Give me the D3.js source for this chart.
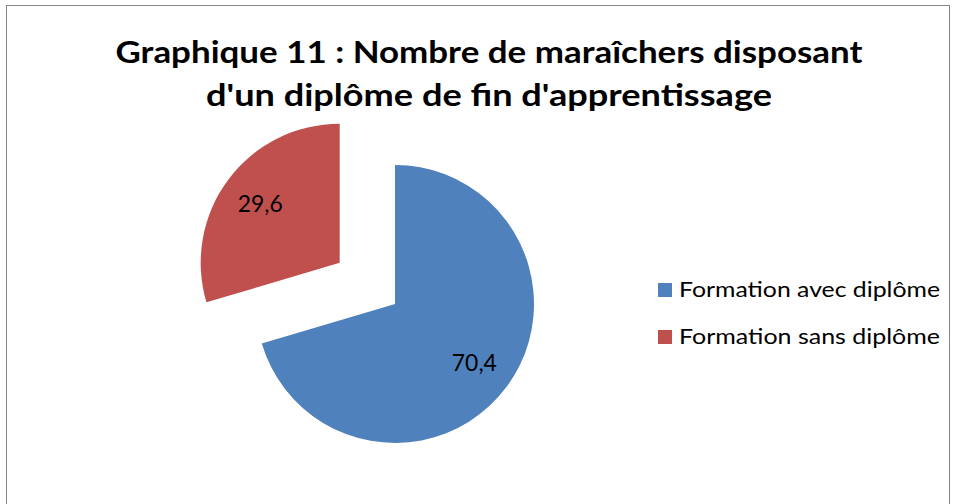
<!DOCTYPE html>
<html lang="fr">
<head>
    <meta charset="UTF-8">
    <title>Graphique 11</title>
    <script src="https://d3js.org/d3.v7.min.js"></script>
    <style>
        body { margin: 0; background: #fff; }
        text { font-family: Lato, "Open Sans", sans-serif; fill: #000; }
    </style>
</head>
<body>
    <div id="chart"></div>
    <script>
        // Data
        const categories = ["Formation avec diplôme", "Formation sans diplôme"];
        const values = [70.4, 29.6];
        const labels = ["70,4", "29,6"];
        const colors = ["#4F81BD", "#C0504D"];
        const exploded = [0, 69];
        const titleLines = ["Graphique 11 : Nombre de maraîchers disposant", "d'un diplôme de fin d'apprentissage"];

        const width = 956, height = 504;
        const cx = 395, cy = 304, radius = 139;

        const svg = d3.select("#chart").append("svg")
            .attr("width", width)
            .attr("height", height);

        // Chart border
        svg.append("rect")
            .attr("x", 6.5).attr("y", 5.5)
            .attr("width", 943).attr("height", 540)
            .attr("fill", "none")
            .attr("stroke", "#868686")
            .attr("stroke-width", 1);

        // Title
        const titleWidths = [747, 566];
        svg.selectAll(".title")
            .data(titleLines)
            .enter().append("text")
            .attr("class", "title")
            .attr("x", 489)
            .attr("y", (d, i) => 63 + i * 43)
            .attr("text-anchor", "middle")
            .attr("textLength", (d, i) => titleWidths[i])
            .attr("lengthAdjust", "spacingAndGlyphs")
            .style("font-size", "31px")
            .style("font-weight", "bold")
            .text(d => d);

        const data = categories.map((c, i) => ({name: c, value: values[i], label: labels[i], color: colors[i], offset: exploded[i]}));

        const pie = d3.pie().sort(null).value(d => d.value);
        const arc = d3.arc().innerRadius(0).outerRadius(radius);
        const labelArc = d3.arc().innerRadius(99).outerRadius(99);

        const slices = svg.append("g")
            .attr("transform", `translate(${cx},${cy})`)
            .selectAll("g")
            .data(pie(data))
            .enter().append("g")
            .attr("transform", d => {
                const a = (d.startAngle + d.endAngle) / 2;
                return `translate(${Math.sin(a) * d.data.offset},${-Math.cos(a) * d.data.offset})`;
            });

        slices.append("path")
            .attr("d", arc)
            .attr("fill", d => d.data.color);

        slices.append("text")
            .attr("transform", d => `translate(${labelArc.centroid(d)})`)
            .attr("text-anchor", "middle")
            .attr("dy", "0.35em")
            .attr("textLength", 45)
            .attr("lengthAdjust", "spacingAndGlyphs")
            .style("font-size", "23px")
            .text(d => d.data.label);

        // Legend
        const legend = svg.append("g")
            .selectAll("g")
            .data(data)
            .enter().append("g")
            .attr("transform", (d, i) => `translate(658,${283 + i * 47})`);

        legend.append("rect")
            .attr("width", 14).attr("height", 14)
            .attr("fill", d => d.color);

        legend.append("text")
            .attr("x", 21).attr("y", 14)
            .attr("textLength", 261)
            .attr("lengthAdjust", "spacingAndGlyphs")
            .style("font-size", "21px")
            .text(d => d.name);
    </script>
</body>
</html>
